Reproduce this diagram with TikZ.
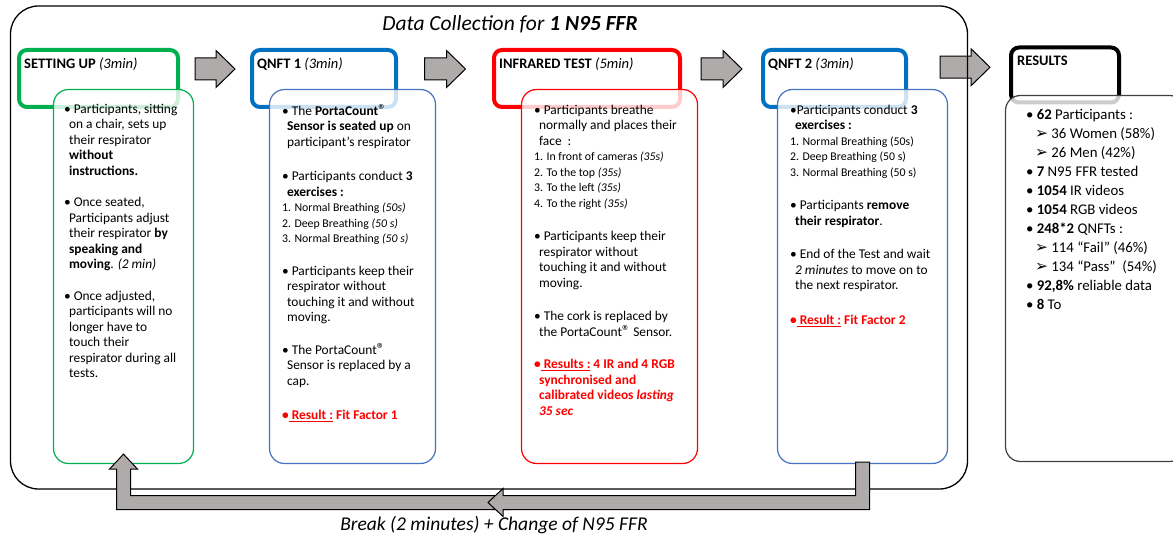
\documentclass[tikz,border=0pt]{standalone}
\usepackage{fontspec}
\setmainfont{Carlito}
\newfontfamily\dingfont{DejaVu Sans}
\usetikzlibrary{calc}

\definecolor{setgreen}{RGB}{0,176,80}
\definecolor{qblue}{RGB}{0,112,192}
\definecolor{qbluelight}{RGB}{68,114,196}
\definecolor{irred}{RGB}{255,0,0}
\definecolor{arrowgray}{RGB}{175,171,171}
\definecolor{resgray}{RGB}{64,64,64}

\newcommand{\ind}{\hspace*{5pt}}
\newcommand{\arw}{{\dingfont\fontsize{15.5}{15}\selectfont ➢}}
\newcommand{\regmark}{{\fontsize{16}{15}\selectfont ®}}
\newcommand{\listfont}{\fontsize{11.8}{15}\selectfont}

\tikzset{
  head/.style={draw=#1, line width=4pt, rounded corners=8pt, inner sep=0pt},
  body/.style={draw=#1, line width=1.2pt, rounded corners=15pt, fill=white, fill opacity=0.8, inner sep=0pt},
  headtext/.style={anchor=west, inner sep=0pt, font=\fontsize{14.5}{16}\selectfont},
  bodytext/.style={anchor=north west, inner sep=0pt, align=left, font=\fontsize{13.4}{15.5}\selectfont},
  blockarrow/.style={draw=black, line width=1pt, fill=arrowgray},
  pics/fatarrow/.style={code={
    \path[blockarrow] (-0.5*#1,-11) -- (0.5*#1-19,-11) -- (0.5*#1-19,-18.5)
      -- (0.5*#1,0) -- (0.5*#1-19,18.5) -- (0.5*#1-19,11) -- (-0.5*#1,11) -- cycle;}},
}

\begin{document}
\begin{tikzpicture}[x=1pt, y=-1pt]
	\clip (0,0) rectangle (1173,537);

	% Title of the frame
	\node[font=\fontsize{21.5}{25}\selectfont\itshape] (title) at (510,24) {Data Collection for \textbf{1 N95 FFR}};

	% Header boxes of the steps
	\node[head=setgreen, minimum width=159, minimum height=57] (sethead) at (98.5,78.5) {};
	\node[head=qblue, minimum width=144, minimum height=57] (q1head) at (324,78.5) {};
	\node[head=irred, minimum width=186, minimum height=57] (irhead) at (587,78.5) {};
	\node[head=qblue, minimum width=143, minimum height=57] (q2head) at (834.5,78.5) {};
	\node[head=black, minimum width=108, minimum height=55] (reshead) at (1065,75) {};

	% Header labels
	\node[headtext] at ($(sethead.north west)+(7,16)$) {\textbf{SETTING UP} \textit{(3min)}};
	\node[headtext] at ($(q1head.north west)+(7,16)$) {\textbf{QNFT 1} \textit{(3min)}};
	\node[headtext] at ($(irhead.north west)+(7,16)$) {\textbf{INFRARED TEST} \textit{(5min)}};
	\node[headtext] at ($(q2head.north west)+(7,16)$) {\textbf{QNFT 2} \textit{(3min)}};
	\node[headtext] at ($(reshead.north west)+(8,15.5)$) {\textbf{RESULTS}};

	% Body boxes, laid over the headers
	\node[body=setgreen, minimum width=140, minimum height=374] (setbody) at (123.5,276.5) {};
	\node[body=qbluelight, minimum width=166, minimum height=374] (q1body) at (352.5,276.5) {};
	\node[body=irred, minimum width=176, minimum height=374] (irbody) at (609.5,276.5) {};
	\node[body=qbluelight, minimum width=170, minimum height=374] (q2body) at (862.5,276.5) {};
	\node[body=resgray, minimum width=179, minimum height=366] (resbody) at (1095,278.5) {};

	% Setting up
	\node[bodytext] (settxt) at ($(setbody.north west)+(11,15)$) {%
		• Participants, sitting\\
		\ind on a chair, sets up\\
		\ind their respirator\\
		\ind \textbf{without}\\
		\ind \textbf{instructions.}\\[16pt]
		• Once seated,\\
		\ind Participants adjust\\
		\ind their respirator \textbf{by}\\
		\ind \textbf{speaking and}\\
		\ind \textbf{moving}. \textit{(2 min)}\\[16pt]
		• Once adjusted,\\
		\ind participants will no\\
		\ind longer have to\\
		\ind touch their\\
		\ind respirator during all\\
		\ind tests.};

	% QNFT 1
	\node[bodytext] (q1txt) at ($(q1body.north west)+(13,15)$) {%
		• The \textbf{PortaCount}\regmark\\
		\ind \textbf{Sensor is seated up} on\\
		\ind participant’s respirator\\[19pt]
		• Participants conduct \textbf{3}\\
		\ind \textbf{exercises :}\\
		{\listfont 1. Normal Breathing \textit{(50s)}}\\
		{\listfont 2. Deep Breathing \textit{(50 s)}}\\
		{\listfont 3. Normal Breathing \textit{(50 s)}}\\[17pt]
		• Participants keep their\\
		\ind respirator without\\
		\ind touching it and without\\
		\ind moving.\\[17pt]
		• The PortaCount\regmark\\
		\ind Sensor is replaced by a\\
		\ind cap.\\[19pt]
		{\color{irred}\bfseries •\underline{\ Result :} Fit Factor 1}};

	% Infrared test
	\node[bodytext] (irtxt) at ($(irbody.north west)+(13,16)$) {%
		• Participants breathe\\
		\ind normally and places their\\
		\ind face\ \ :\\
		{\listfont 1. In front of cameras \textit{(35s)}}\\
		{\listfont 2. To the top \textit{(35s)}}\\
		{\listfont 3. To the left \textit{(35s)}}\\
		{\listfont 4. To the right \textit{(35s)}}\\[18pt]
		• Participants keep their\\
		\ind respirator without\\
		\ind touching it and without\\
		\ind moving.\\[18pt]
		• The cork is replaced by\\
		\ind the PortaCount\regmark\ Sensor.\\[17pt]
		{\color{irred}\bfseries •\underline{\ Results :} 4 IR and 4 RGB}\\
		{\color{irred}\bfseries \ind synchronised and}\\
		{\color{irred}\bfseries \ind calibrated videos \textit{lasting}}\\
		{\color{irred}\bfseries \ind \textit{35 sec}}};

	% QNFT 2
	\node[bodytext] (q2txt) at ($(q2body.north west)+(13,16)$) {%
		•Participants conduct \textbf{3}\\
		\ind \textbf{exercises :}\\
		{\listfont 1. Normal Breathing (50s)}\\
		{\listfont 2. Deep Breathing (50 s)}\\
		{\listfont 3. Normal Breathing (50 s)}\\[18pt]
		• Participants \textbf{remove}\\
		\ind \textbf{their respirator}.\\[18pt]
		• End of the Test and wait\\
		\ind \textit{2 minutes} to move on to\\
		\ind the next respirator.\\[19pt]
		{\color{irred}\bfseries •\underline{\ Result :} Fit Factor 2}};

	% Results
	\node[bodytext, font=\fontsize{14.8}{19}\selectfont] (restxt) at ($(resbody.north west)+(21,14)$) {%
		• \textbf{62} Participants :\\
		\hspace*{9pt}\arw\ 36 Women (58\%)\\
		\hspace*{9pt}\arw\ 26 Men (42\%)\\
		• \textbf{7} N95 FFR tested\\
		• \textbf{1054} IR videos\\
		• \textbf{1054} RGB videos\\
		• \textbf{248*2} QNFTs :\\
		\hspace*{9pt}\arw\ 114 “Fail” (46\%)\\
		\hspace*{9pt}\arw\ 134 “Pass”\ \ (54\%)\\
		• \textbf{92,8\%} reliable data\\
		• \textbf{8} To};

	% Arrows between the steps
	\pic at ($(sethead.east)!0.5!(q1head.west)+(0,-9.5)$) {fatarrow=40};
	\pic at ($(q1head.east)!0.5!(irhead.west)+(0,-9.5)$) {fatarrow=41};
	\pic at ($(irhead.east)!0.5!(q2head.west)+(0,-9.5)$) {fatarrow=41};
	\pic at ($(q2head.east)!0.5!(reshead.west)+(6.5,-9.5)$) {fatarrow=50};

	% Outer frame
	\draw[line width=1.3pt, rounded corners=28pt] (10.5,6) rectangle (967.5,489);

	% Return arrow back to the first step
	\coordinate (turnR) at ($(q2body.south)+(0,38.5)$);
	\coordinate (turnL) at ($(setbody.south)+(0,38.5)$);
	\coordinate (midtip) at (488,502.5);
	\path[blockarrow] ($(midtip)+(22,-7)$) -- ($(turnL)+(7,-7)$) -- ($(setbody.south)+(7,5)$)
		-- ($(setbody.south)+(14,5)$) -- ($(setbody.south)+(0,-10)$) -- ($(setbody.south)+(-14,5)$)
		-- ($(setbody.south)+(-7,5)$) -- ($(turnL)+(-7,7)$) -- ($(midtip)+(22,7)$) -- cycle;
	\path[blockarrow] ($(q2body.south)+(-7,-2)$) -- ($(q2body.south)+(7,-2)$) -- ($(turnR)+(7,7)$)
		-- ($(midtip)+(15,7)$) -- ($(midtip)+(15,14)$) -- (midtip) -- ($(midtip)+(15,-14)$)
		-- ($(midtip)+(15,-7)$) -- ($(turnR)+(-7,-7)$) -- cycle;

	% Label of the return arrow
	\node[font=\fontsize{19.5}{23}\selectfont\itshape] (breaklbl) at ($(midtip)+(6,22.5)$) {Break (2 minutes) + Change of N95 FFR};
\end{tikzpicture}
\end{document}
